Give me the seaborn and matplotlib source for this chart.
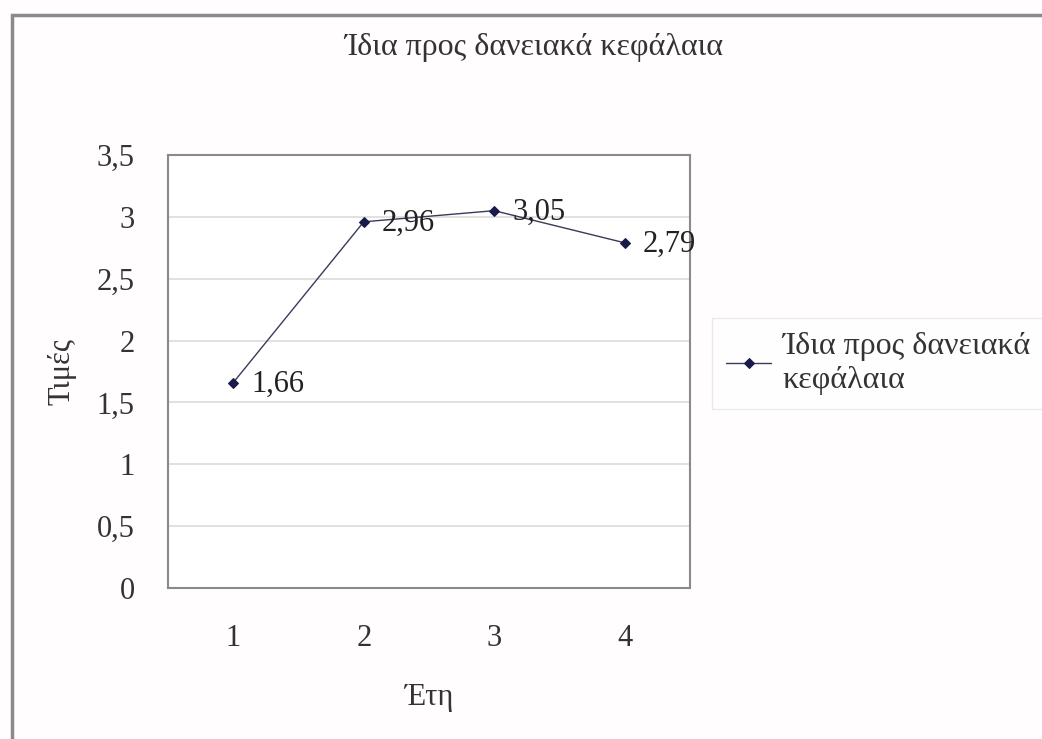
import matplotlib
matplotlib.use("Agg")
import matplotlib.pyplot as plt
import seaborn as sns
import pandas as pd
from matplotlib.patches import Rectangle

years = ["1", "2", "3", "4"]
values = [1.66, 2.96, 3.05, 2.79]
series_name = "Ίδια προς δανειακά κεφάλαια"
title = "Ίδια προς δανειακά κεφάλαια"
xlabel = "Έτη"
ylabel = "Τιμές"
yticks = [0, 0.5, 1, 1.5, 2, 2.5, 3, 3.5]

sns.set_style("white")
plt.rcParams['font.family'] = ['Liberation Serif', 'DejaVu Serif']

df = pd.DataFrame({"year": years, "value": values})
df["x"] = range(len(years))

W, H = 1042, 739
fig = plt.figure(figsize=(W / 100, H / 100), dpi=100)
fig.patch.set_facecolor("#fffdfe")

# outer chart frame
fig.patches.append(Rectangle((12 / W, -0.05), 1.1, 1 - 15 / H + 0.05,
                             transform=fig.transFigure, fill=False,
                             edgecolor="#8a8a8a", linewidth=2.5))

AX_L, AX_R, AX_T, AX_B = 168, 690, 155, 588
ax = fig.add_axes([AX_L / W, 1 - AX_B / H, (AX_R - AX_L) / W, (AX_B - AX_T) / H])
ax.set_facecolor("white")

sns.lineplot(data=df, x="x", y="value", ax=ax, color="#3a3a5a", linewidth=1.0,
             marker="D", markersize=5, markerfacecolor="#1a1a4a",
             markeredgecolor="#1a1a4a", label=series_name, legend=False)

for xi, v in zip(df["x"], df["value"]):
    ax.annotate(f"{v:.2f}".replace(".", ","), (xi, v), xytext=(13, -1),
                textcoords="offset points", ha="left", va="center",
                fontsize=22, color="#222222")

ax.set_xlim(-0.5, len(years) - 0.5)
ax.set_ylim(0, 3.5)
ax.set_xticks(range(len(years)))
ax.set_xticklabels(years)
ax.set_yticks(yticks)
ax.set_yticklabels([f"{t:g}".replace(".", ",") for t in yticks])
ax.tick_params(axis="both", labelsize=22, colors="#333333", length=0)
ax.tick_params(axis="y", pad=24)
ax.tick_params(axis="x", pad=26)
ax.yaxis.grid(True, color="#dcdcdc", linewidth=1.2)
ax.xaxis.grid(False)
for s in ax.spines.values():
    s.set_visible(True)
    s.set_color("#8a8a8a")
    s.set_linewidth(1.5)

ax.set_xlabel(xlabel, fontsize=22, color="#333333")
ax.set_ylabel(ylabel, fontsize=22, color="#333333")
ax.xaxis.set_label_coords(0.5, (AX_B - 697) / (AX_B - AX_T))
ax.xaxis.label.set_va("center")
ax.yaxis.set_label_coords((62 - AX_L) / (AX_R - AX_L), 0.5)
ax.yaxis.label.set_va("center")

fig.text(534 / W, 1 - 48 / H, title, ha="center", va="center",
         fontsize=23, color="#333333")

leg = fig.legend(loc="upper left", bbox_to_anchor=(712 / W, 1 - 318 / H),
                 frameon=True, fontsize=23, handlelength=1.4,
                 borderpad=0.45, labelspacing=0.05, handletextpad=0.35,
                 borderaxespad=0)
leg.get_frame().set_edgecolor("#e6e6e6")
leg.get_frame().set_boxstyle("square", pad=0)
leg.get_texts()[0].set_text("Ίδια προς δανειακά\nκεφάλαια")
leg.get_texts()[0].set_color("#333333")

fig.savefig("out.png", dpi=100)
